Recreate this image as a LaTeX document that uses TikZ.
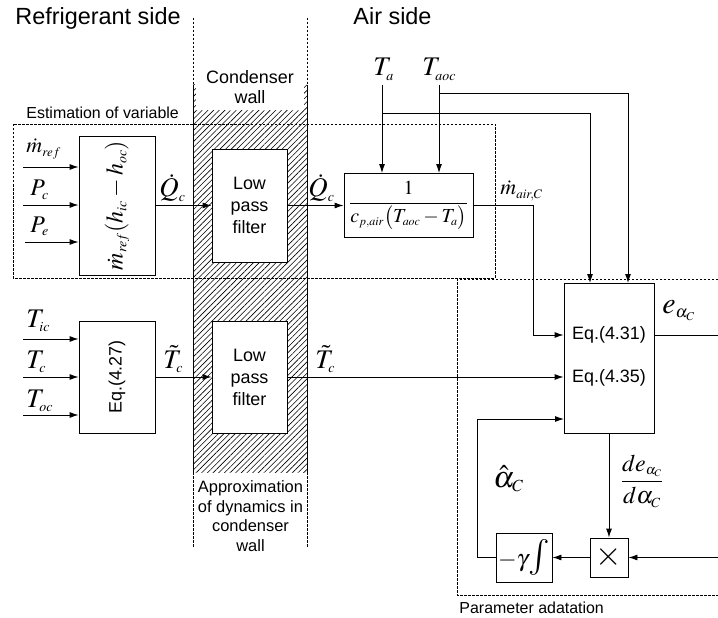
\documentclass[tikz,border=0pt]{standalone}
\usepackage{amsmath}
\usepackage{mathptmx}
\usepackage[no-math]{fontspec}
\setmainfont{Liberation Sans}
\usetikzlibrary{arrows.meta,patterns.meta}
\DeclareMathSizes{27}{27}{14}{11}
\DeclareMathSizes{24}{24}{14}{10}
\DeclareMathSizes{22}{22}{13}{10}
\DeclareMathSizes{20}{20}{12}{9}
\DeclareMathSizes{30}{30}{17}{12}

\begin{document}
\begin{tikzpicture}[x=1bp,y=-1bp,
  line width=0.9bp,
  blk/.style={draw, fill=white, inner sep=0pt, line width=0.9bp},
  arr/.style={-{Latex[length=9bp,width=6bp]}},
  dsh/.style={line width=0.7bp, dash pattern=on 2.5bp off 1.5bp},
  bigtxt/.style={inner sep=0pt, font=\fontsize{23.5}{26}\selectfont},
  midtxt/.style={inner sep=0pt, align=center, font=\fontsize{18}{22}\selectfont},
  smltxt/.style={inner sep=0pt, font=\fontsize{16}{19.5}\selectfont},
  mth/.style={inner sep=0pt, font=\fontsize{27}{30}\selectfont},
]
\useasboundingbox (0,0) rectangle (718,618);

% ---- condenser wall (hatched) ----
\fill[pattern={Lines[angle=45,distance=4bp,line width=0.6bp]}] (193,85) rectangle (307,472);
\fill[white] (196,60) rectangle (304,110);
\draw[line width=0.7bp] (193,85) -- (193,472);
\draw[line width=0.7bp] (307,85) -- (307,472);
\draw[dsh] (193,18) -- (193,85);
\draw[dsh] (307,18) -- (307,85);
\draw[dsh] (193,472) -- (193,548);
\draw[dsh] (307,472) -- (307,548);

% ---- dashed frames ----
\draw[dsh] (13,124) rectangle (495,278);
\draw[dsh] (718,279) -- (457,279) -- (457,595) -- (718,595);

% ---- titles ----
\node[bigtxt, anchor=base west] (tref) at (15,25) {Refrigerant side};
\node[bigtxt, anchor=base west] (tair) at (353,25) {Air side};
\node[midtxt, font=\fontsize{18}{20.5}\selectfont] (twall) at (250,87) {Condenser\\wall};
\node[smltxt, anchor=base west] (test) at (26,119) {Estimation of variable};
\node[smltxt, align=center, font=\fontsize{16.5}{19.5}\selectfont] (tapp) at (250.5,516) {Approximation\\of dynamics in\\condenser\\wall};
\node[smltxt, anchor=base west] (tpar) at (459,613) {Parameter adatation};

% ---- blocks ----
\node[blk, minimum width=76bp, minimum height=139bp] (b1) at (117,205.5) {};
\node[mth, rotate=90, font=\fontsize{24}{28}\selectfont] (b1t) at (117,205.5) {$\dot{m}_{ref}(h_{ic}-h_{oc})$};
\node[blk, minimum width=76bp, minimum height=112bp] (b2) at (117,377) {};
\node[midtxt, rotate=90] (b2t) at (117,377) {Eq.(4.27)};
\node[blk, minimum width=75bp, minimum height=113bp, midtxt] (f1) at (249.5,205.5) {Low\\pass\\filter};
\node[blk, minimum width=75bp, minimum height=112bp, midtxt] (f2) at (249.5,377) {Low\\pass\\filter};
\node[blk, minimum width=129bp, minimum height=64bp, font=\fontsize{20}{24}\selectfont] (fb) at (408.5,205.5)
  {$\dfrac{1}{c_{p,air}\bigl(T_{aoc}-T_a\bigr)}$};
\node[blk, minimum width=90bp, minimum height=150bp] (bg) at (609,358) {};
\node[midtxt] (e31) at (609,335) {Eq.(4.31)};
\node[midtxt] (e35) at (609,378) {Eq.(4.35)};
\node[blk, minimum width=56bp, minimum height=49bp, font=\fontsize{24}{26}\selectfont] (gam) at (524,557.5)
  {$-\gamma\mbox{\fontsize{36}{36}\selectfont$\int$}$};
\node[blk, minimum width=38bp, minimum height=39bp, font=\fontsize{34}{34}\selectfont] (mul) at (609,557.5) {$\times$};

% ---- signal labels ----
\node[mth, anchor=base west, font=\fontsize{22}{24}\selectfont] (lm) at (26,153) {$\dot{m}_{ref}$};
\node[mth, anchor=base west, font=\fontsize{24}{26}\selectfont] (lpc) at (30,196) {$P_c$};
\node[mth, anchor=base west, font=\fontsize{24}{26}\selectfont] (lpe) at (30,232) {$P_e$};
\node[mth, anchor=base west] (lti) at (26,327) {$T_{ic}$};
\node[mth, anchor=base west] (ltc) at (26,368) {$T_c$};
\node[mth, anchor=base west] (lto) at (26,407) {$T_{oc}$};
\node[mth, anchor=base west] (lq1) at (159,197) {$\dot{Q}_c$};
\node[mth, anchor=base west] (lq2) at (308,197) {$\dot{Q}_c$};
\node[mth, anchor=base west] (lt1) at (163,368) {$\tilde{T}_c$};
\node[mth, anchor=base west] (lt2) at (315,368) {$\tilde{T}_c$};
\node[mth, anchor=base west] (lta) at (373,76) {$T_a$};
\node[mth, anchor=base west] (ltao) at (422,76) {$T_{aoc}$};
\node[mth, anchor=base west, font=\fontsize{22}{24}\selectfont] (lmair) at (500,195) {$\dot{m}_{air,C}$};
\node[mth, anchor=base west, font=\fontsize{30}{32}\selectfont] (le) at (662,313) {$e_{\alpha_C}$};
\node[mth, anchor=base west, font=\fontsize{30}{32}\selectfont] (lal) at (493,487) {$\hat{\alpha}_C$};
\node[mth, font=\fontsize{24}{26}\selectfont] (lde) at (642,481) {$\dfrac{de_{\alpha_C}}{d\alpha_C}$};

% ---- connector end points ----
\coordinate (in1) at (23,167);
\coordinate (in2) at (23,205);
\coordinate (in3) at (25,242);
\coordinate (in4) at (23,339);
\coordinate (in5) at (23,377);
\coordinate (in6) at (23,415);
\coordinate (taS) at (382,85);
\coordinate (taJ) at (382,113);
\coordinate (taoS) at (439,85);
\coordinate (taoJ) at (439,93);
\coordinate (bgA) at (590,283);
\coordinate (bgB) at (628,283);
\coordinate (mk) at (533,205.5);
\coordinate (fbk) at (477,419);
\coordinate (bgC) at (564,419);
\coordinate (eout) at (718,335);
\coordinate (rin) at (718,557.5);

% ---- connectors ----
\draw[arr] (in1) -- (in1 -| b1.west);
\draw[arr] (in2) -- (in2 -| b1.west);
\draw[arr] (in3) -- (in3 -| b1.west);
\draw[arr] (in4) -- (in4 -| b2.west);
\draw[arr] (in5) -- (in5 -| b2.west);
\draw[arr] (in6) -- (in6 -| b2.west);
\draw[arr] (b1.east) -- (f1.west);
\draw[arr] (f1.east) -- (fb.west);
\draw[arr] (b2.east) -- (f2.west);
\draw[arr] (f2.east) -- (f2.east -| bg.west);
\draw[arr] (taS) -- (taS |- fb.north);
\draw[arr] (taoS) -- (taoS |- fb.north);
\draw[arr] (taJ) -| (bgA);
\draw[arr] (taoJ) -| (bgB);
\draw[arr] (fb.east) -- (mk) |- (e31.west -| bg.west);
\draw (eout -| bg.east) -- (eout);
\draw[arr] (bg.south) -- (mul.north);
\draw[arr] (rin) -- (mul.east);
\draw[arr] (mul.west) -- (gam.east);
\draw[arr] (gam.west) -- (gam.west -| fbk) -- (fbk) -- (bgC);
\end{tikzpicture}
\end{document}
